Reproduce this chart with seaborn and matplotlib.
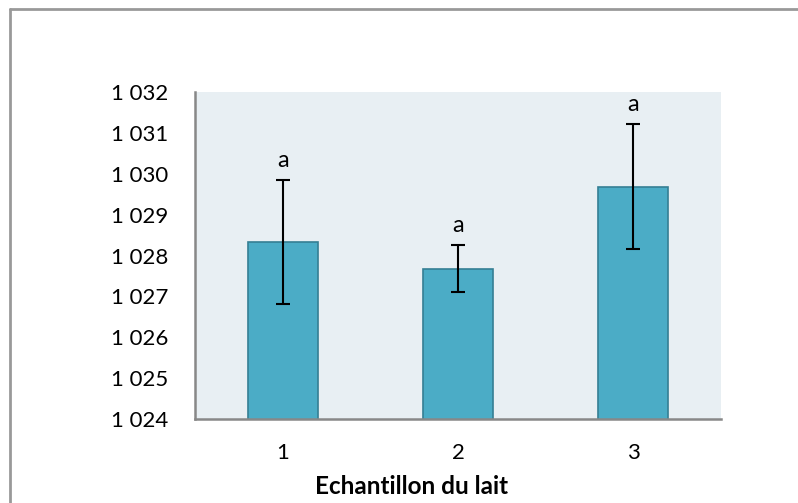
import matplotlib
matplotlib.use("Agg")
import matplotlib.pyplot as plt
import seaborn as sns
import pandas as pd
import numpy as np
from matplotlib.ticker import FuncFormatter, FixedLocator
from matplotlib.lines import Line2D

categories = ["1", "2", "3"]
means = [1028.33, 1027.68, 1029.68]
errors = [1.52, 0.58, 1.53]
letters = ["a", "a", "a"]
yticks = [1024, 1025, 1026, 1027, 1028, 1029, 1030, 1031, 1032]
xlabel = "Echantillon du lait"

sns.set_style("white")
plt.rcParams["font.family"] = ["Lato", "DejaVu Sans"]
plt.rcParams["text.color"] = "black"
plt.rcParams["xtick.labelcolor"] = "black"
plt.rcParams["ytick.labelcolor"] = "black"
plt.rcParams["axes.labelcolor"] = "black"

df = pd.DataFrame({"cat": categories, "val": means})

fig = plt.figure(figsize=(7.98, 5.03), dpi=100)
ax = fig.add_axes([195/798, 1 - 419/503, (721 - 195)/798, (419 - 92)/503])
ax.set_facecolor("#E8EFF3")

sns.barplot(data=df, x="cat", y="val", ax=ax, color="#4BACC6", width=0.4,
            edgecolor="#357F94", linewidth=1.2, errorbar=None, saturation=1)
ax.errorbar(np.arange(len(categories)), means, yerr=errors, fmt="none",
            ecolor="black", elinewidth=1.5, capsize=5, capthick=1.5, zorder=5)
for i, (m, e, t) in enumerate(zip(means, errors, letters)):
    ax.annotate(t, (i, m + e), xytext=(0, 9.5), textcoords="offset points",
                ha="center", va="baseline", fontsize=17, color="black")

ax.set_ylim(1024, 1032)
ax.set_xlim(-0.5, 2.5)
ax.yaxis.set_major_locator(FixedLocator(yticks))
ax.yaxis.set_major_formatter(FuncFormatter(lambda v, p: f"{int(v):,}".replace(",", " ")))
ax.set_xticks(range(3))
ax.set_xticklabels(categories)
ax.set_xticks([-0.5, 0.5, 1.5, 2.5], minor=True)
ax.tick_params(axis="x", which="major", length=0, pad=17, labelsize=16)
ax.tick_params(axis="x", which="minor", length=6, width=1.5, color="#888888", direction="out")
ax.tick_params(axis="y", length=6, width=1.5, color="#888888", direction="out", labelsize=16, pad=13.5)
for s in ["top", "right"]:
    ax.spines[s].set_visible(False)
for s in ["left", "bottom"]:
    ax.spines[s].set_color("#888888")
    ax.spines[s].set_linewidth(1.8)
ax.set_xlabel("")
ax.set_ylabel("")
fig.text(412/798, 1 - 494/503, xlabel, ha="center", va="baseline",
         fontsize=17.5, fontweight="bold", color="black")

fig.add_artist(Line2D([10/798, 10/798], [0, 1 - 9/503], transform=fig.transFigure, color="#999999", lw=2))
fig.add_artist(Line2D([10/798, 1], [1 - 9/503, 1 - 9/503], transform=fig.transFigure, color="#999999", lw=2))

fig.savefig("out.png", dpi=100)
